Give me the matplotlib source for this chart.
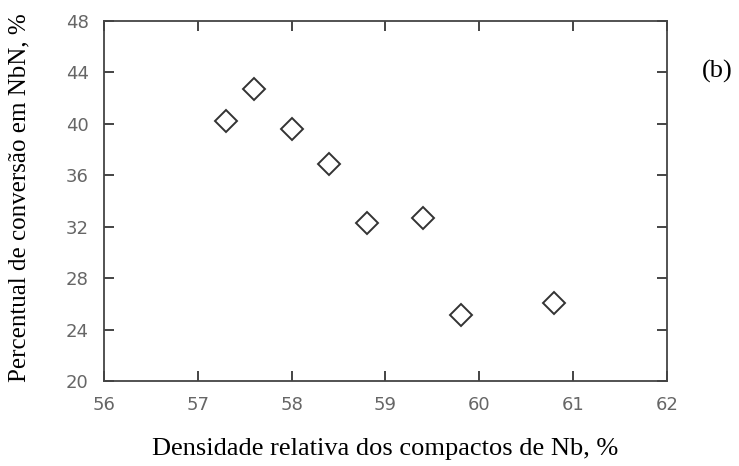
import matplotlib.pyplot as plt

# densidade relativa (%) vs percentual de conversao em NbN (%)
densidade = [57.3, 57.6, 58.0, 58.4, 58.8, 59.4, 59.8, 60.8]
conversao = [40.2, 42.7, 39.6, 36.9, 32.3, 32.7, 25.1, 26.1]

xticks = [56, 57, 58, 59, 60, 61, 62]
yticks = [20, 24, 28, 32, 36, 40, 44, 48]

fig = plt.figure(figsize=(7.39, 4.66), dpi=100)
ax = fig.add_axes([0.1407, 0.1824, 0.7619, 0.7726])

ax.plot(densidade, conversao, linestyle='none', marker='D', markersize=11,
        markerfacecolor='white', markeredgecolor='#333333', markeredgewidth=1.4)

ax.set_xlim(56, 62)
ax.set_ylim(20, 48)
ax.set_xticks(xticks)
ax.set_yticks(yticks)
ax.tick_params(direction='in', length=7, width=1.4, color='#444444',
               top=True, right=True, labelsize=13, labelcolor='#666666')
ax.tick_params(axis='x', pad=11)
ax.tick_params(axis='y', pad=11)
for lbl in ax.get_xticklabels() + ax.get_yticklabels():
    lbl.set_fontfamily('DejaVu Sans')
for s in ax.spines.values():
    s.set_color('#444444')
    s.set_linewidth(1.3)

serif = 'Liberation Serif'
fig.text(0.521, 0.036, 'Densidade relativa dos compactos de Nb, %',
         ha='center', va='center', fontsize=19, family=serif)
fig.text(0.026, 0.575, 'Percentual de conversão em NbN, %', rotation=90,
         ha='center', va='center', fontsize=18, family=serif)
fig.text(0.97, 0.847, '(b)', ha='center', va='center', fontsize=19, family=serif)

fig.savefig('out.png', dpi=100)
